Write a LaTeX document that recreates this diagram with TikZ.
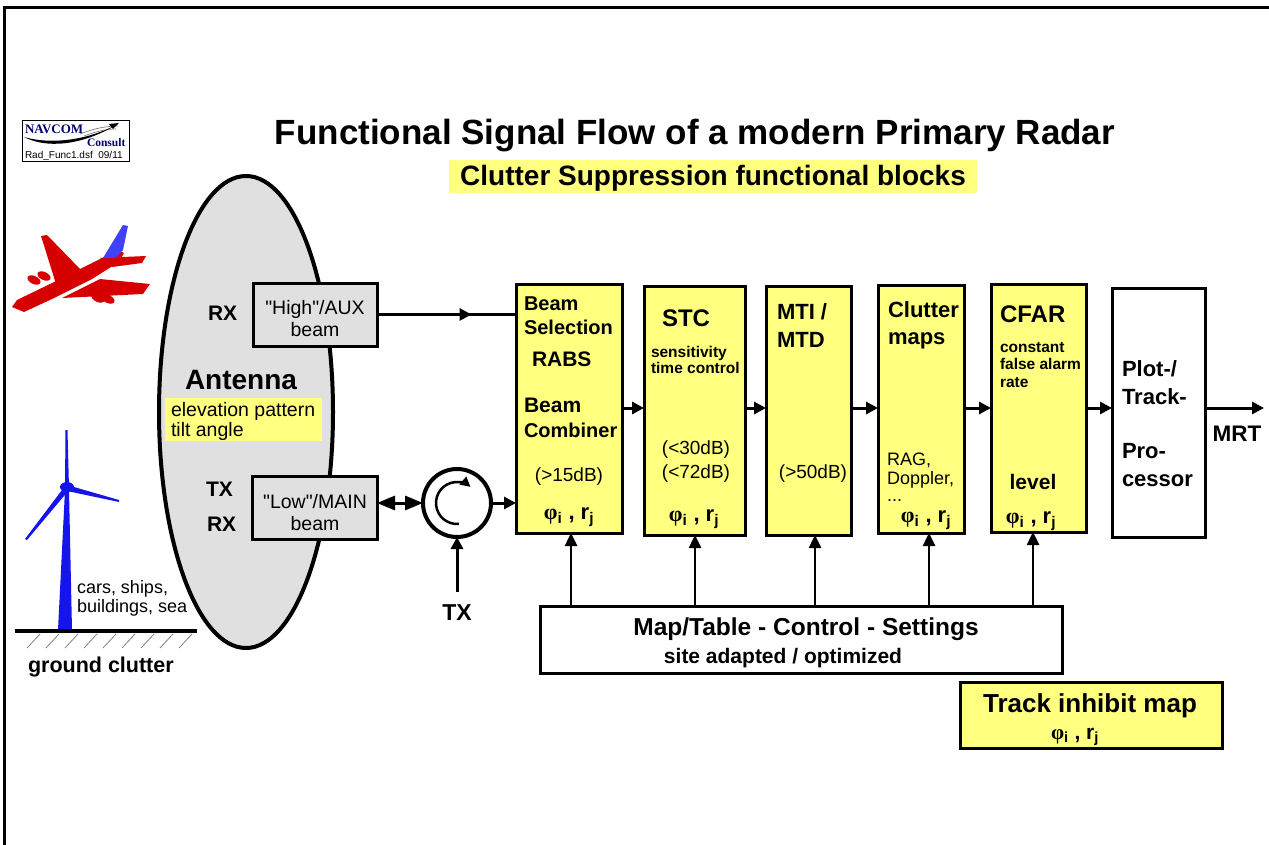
\documentclass[tikz,border=0pt]{standalone}
\usepackage{fontspec}
\setmainfont{Liberation Sans}
\newfontfamily\phifont{Liberation Serif}
\newfontfamily\rawsans{Liberation Sans}[Ligatures=TeXOff]
\usetikzlibrary{arrows.meta,calc,shapes.geometric}
\definecolor{blockyellow}{RGB}{255,255,128}
\definecolor{antgrey}{RGB}{224,224,224}
\definecolor{planered}{RGB}{214,0,0}
\definecolor{tailblue}{RGB}{64,64,255}
\definecolor{turbineblue}{RGB}{20,20,235}
\definecolor{navcomblue}{RGB}{0,0,110}
\newcommand{\fsz}[1]{\fontsize{#1}{#1}\selectfont}
\newcommand{\phirj}{{\phifont φ}\textsubscript{i} , r\textsubscript{j}}
\begin{document}
\begin{tikzpicture}[x=1pt,y=-1pt,
  every node/.style={inner sep=0pt, outer sep=0pt},
  blk/.style={draw, line width=3pt, anchor=north west},
  ybl/.style={blk, fill=blockyellow},
  gbl/.style={blk, fill=antgrey},
  wbl/.style={blk, fill=white},
  arr/.style={line width=3pt, -{Triangle[length=12pt,width=12pt]}},
  uparr/.style={line width=2.5pt, -{Triangle[length=13pt,width=12pt]}},
  lt/.style={anchor=base west},
  ct/.style={anchor=base}]
\useasboundingbox (0,0) rectangle (1269,845);

% page frame (left and top edges)
\draw[line width=2.5pt] (4.5,845) -- (4.5,7.5) -- (1269,7.5);

% logo
\node[draw, line width=1pt, anchor=north west, minimum width=107pt, minimum height=41pt] (logo) at (22,121) {};
\node[lt, font=\phifont\bfseries\fsz{13}, text=navcomblue] (logoa) at (25,134) {NAVCOM};
\node[lt, font=\phifont\bfseries\fsz{11.5}, text=navcomblue] (logob) at (87,147) {Consult};
\node[lt, font=\fsz{10}] (logoc) at (25,159) {Rad\_Func1.dsf\ \ 09/11};
\draw[gray, line width=0.7pt] (80,134) .. controls (95,128) and (108,126) .. (118,126);
\draw[gray, line width=0.7pt] (84,136) .. controls (97,131) and (108,129) .. (116,129);
\fill (24,137) .. controls (45,148) and (80,147) .. (118,124) .. controls (84,142) and (48,144) .. (24,137) -- cycle;
\fill (119,123) -- (109,124) -- (113,129) -- cycle;

% titles
\node[ct, font=\bfseries\fsz{35}] (title) at (695,145) {Functional Signal Flow of a modern Primary Radar};
\node[fill=blockyellow, anchor=north west, minimum width=528pt, minimum height=33pt] (subbg) at (449,160) {};
\node[ct, font=\bfseries\fsz{28}] (sub) at (713,186) {Clutter Suppression functional blocks};

% aircraft
\fill[planered] (12,307) -- (17,300) -- (50,284) -- (104,257) -- (117,250) -- (124,253) -- (119,262) -- (92,279) -- (52,299) -- (24,312) -- cycle;
\fill[planered] (56,284) -- (41,236) -- (47,235) -- (82,271) -- cycle;
\fill[planered] (62,298) -- (100,279) -- (150,284) -- (143,294) -- cycle;
\fill[planered] (100,258) -- (146,256) -- (142,263) -- (112,267) -- cycle;
\fill[planered, rotate around={-25:(34,280)}] (34,280) ellipse[x radius=7, y radius=4];
\fill[planered, rotate around={-25:(44,276)}] (44,276) ellipse[x radius=7, y radius=4];
\fill[planered, rotate around={-25:(98,298)}] (98,298) ellipse[x radius=7, y radius=4];
\fill[planered, rotate around={-25:(108,299)}] (108,299) ellipse[x radius=7, y radius=4];
\fill[tailblue] (103,258) -- (123,225) -- (128,226) -- (123,250) -- (116,258) -- cycle;

% wind turbine and ground
\fill[turbineblue] (58,630) -- (72,630) -- (69,490) -- (65,490) -- cycle;
\fill[turbineblue] (65,488) -- (65.5,430) -- (67.5,430) -- (69,488) -- cycle;
\fill[turbineblue] (65,486) -- (25,539) -- (27,540) -- (69,490) -- cycle;
\fill[turbineblue] (67,485) -- (119,500) -- (119,502) -- (67,491) -- cycle;
\fill[turbineblue] (67,487) ellipse[x radius=7, y radius=5];
\draw[line width=4pt] (15,631) -- (197,631);
\foreach \hx in {27,46,...,179}
  \draw[gray, line width=0.8pt] (\hx,648) -- (\hx+13,634);
\node[lt, font=\fsz{18}] (cars) at (77,593) {cars, ships,};
\node[lt, font=\fsz{18}] (bldg) at (77,612) {buildings, sea};
\node[lt, font=\bfseries\fsz{21.5}] (gnd) at (28,672) {ground clutter};

% antenna
\node[draw, ellipse, line width=4pt, fill=antgrey, minimum width=174pt, minimum height=472pt] (ant) at (246,412) {};
\node[ct, font=\bfseries\fsz{28}] (antlbl) at (241,389) {Antenna};
\node[fill=blockyellow, anchor=north west, minimum width=157pt, minimum height=43pt] (elevbg) at (165,398) {};
\node[lt, font=\fsz{19.5}] (elev1) at (171,416) {elevation pattern};
\node[lt, font=\fsz{19.5}] (elev2) at (171,436) {tilt angle};
\node[lt, font=\bfseries\fsz{21}] (rx1) at (208,320) {RX};
\node[lt, font=\bfseries\fsz{21}] (tx1) at (206,496) {TX};
\node[lt, font=\bfseries\fsz{21}] (rx2) at (207,531) {RX};

\node[gbl, minimum width=124pt, minimum height=63pt] (high) at (253,283) {};
\node[ct, font=\rawsans\fsz{19.5}] (hightxt) at (315,314) {"High"/AUX};
\node[ct, font=\fsz{19.5}] (highbeam) at (315,336) {beam};
\node[gbl, minimum width=125pt, minimum height=63pt] (low) at (252,476) {};
\node[ct, font=\rawsans\fsz{19.5}] (lowtxt) at (315,508) {"Low"/MAIN};
\node[ct, font=\fsz{19.5}] (lowbeam) at (315,530) {beam};

% circulator
\node[draw, circle, line width=4pt, fill=white, minimum size=68pt] (circ) at (457,503) {};
\draw[line width=2.5pt, -{Triangle[length=10pt,width=10pt]}] ($(circ.center)+(85:21)$) arc[start angle=85, end angle=310, radius=21];
\coordinate (txin) at (457,592);
\node[ct, font=\bfseries\fsz{23}] (txlbl) at (457,620) {TX};

% processing chain
\node[ybl, minimum width=106pt, minimum height=249pt] (beam) at (516,284) {};
\node[ybl, minimum width=101pt, minimum height=249pt] (stc) at (644,286) {};
\node[ybl, minimum width=85pt, minimum height=249pt] (mti) at (766,286) {};
\node[ybl, minimum width=86pt, minimum height=248pt] (clut) at (878,285) {};
\node[ybl, minimum width=95pt, minimum height=248pt] (cfar) at (991,284) {};
\node[wbl, minimum width=93pt, minimum height=249pt] (plot) at (1112,288) {};

\node[lt, font=\bfseries\fsz{20}] (b1) at (524,310) {Beam};
\node[lt, font=\bfseries\fsz{20}] (b2) at (524,334) {Selection};
\node[lt, font=\bfseries\fsz{21}] (b3) at (532,366) {RABS};
\node[lt, font=\bfseries\fsz{21}] (b4) at (524,412) {Beam};
\node[lt, font=\bfseries\fsz{20}] (b5) at (524,437) {Combiner};
\node[ct, font=\fsz{19}] (b6) at (569,481) {(>15dB)};
\node[ct, font=\bfseries\fsz{22}] (b7) at (569,519) {\phirj};

\node[lt, font=\bfseries\fsz{24}] (s1) at (662,326) {STC};
\node[lt, font=\bfseries\fsz{15.5}] (s2) at (651,357) {sensitivity};
\node[lt, font=\bfseries\fsz{15.5}] (s3) at (651,373) {time control};
\node[ct, font=\fsz{19}] (s4) at (696,454) {(<30dB)};
\node[ct, font=\fsz{19}] (s5) at (696,478) {(<72dB)};
\node[ct, font=\bfseries\fsz{22}] (s6) at (694,521) {\phirj};

\node[lt, font=\bfseries\fsz{22}] (m1) at (777,319) {MTI /};
\node[lt, font=\bfseries\fsz{22}] (m2) at (777,347) {MTD};
\node[ct, font=\fsz{19}] (m3) at (813,478) {(>50dB)};

\node[lt, font=\bfseries\fsz{22}] (c1) at (888,317) {Clutter};
\node[lt, font=\bfseries\fsz{22}] (c2) at (888,344) {maps};
\node[lt, font=\fsz{18}] (c3) at (887,465) {RAG,};
\node[lt, font=\fsz{18}] (c4) at (887,484) {Doppler,};
\node[lt, font=\fsz{18}] (c5) at (887,501) {...};
\node[ct, font=\bfseries\fsz{22}] (c6) at (926,522) {\phirj};

\node[lt, font=\bfseries\fsz{24}] (f1) at (1000,322) {CFAR};
\node[lt, font=\bfseries\fsz{15.5}] (f2) at (1000,352) {constant};
\node[lt, font=\bfseries\fsz{15.5}] (f3) at (1000,369) {false alarm};
\node[lt, font=\bfseries\fsz{15.5}] (f4) at (1000,387) {rate};
\node[ct, font=\bfseries\fsz{21}] (f5) at (1033,489) {level};
\node[ct, font=\bfseries\fsz{22}] (f6) at (1031,523) {\phirj};

\node[lt, font=\bfseries\fsz{22}] (p1) at (1122,376) {Plot-/};
\node[lt, font=\bfseries\fsz{22}] (p2) at (1122,404) {Track-};
\node[lt, font=\bfseries\fsz{22}] (p3) at (1122,458) {Pro-};
\node[lt, font=\bfseries\fsz{22}] (p4) at (1122,486) {cessor};

\node[ct, font=\bfseries\fsz{22.5}] (mrtlbl) at (1237,441) {MRT};

% control settings
\node[wbl, minimum width=522pt, minimum height=67pt] (map) at (540,606) {};
\node[ct, font=\bfseries\fsz{24.5}] (map1) at (806,635) {Map/Table - Control - Settings};
\node[ct, font=\bfseries\fsz{21}] (map2) at (783,663) {site adapted / optimized};
\node[ybl, minimum width=262pt, minimum height=66pt] (track) at (960,682) {};
\node[ct, font=\bfseries\fsz{26}] (track1) at (1090,712) {Track inhibit map};
\node[ct, font=\bfseries\fsz{21}] (track2) at (1075,739) {\phirj};

% signal connections
\coordinate (row) at (0,408);
\coordinate (mrt) at (1264,408);
\draw[line width=3pt] (high.east) -- (high.east -| beam.west);
\draw[arr] (high.east) -- ($(high.east)!0.68!(high.east -| beam.west)$);
\draw[line width=3pt, {Triangle[length=18pt,width=14pt]}-{Triangle[length=18pt,width=14pt]}] (low.east |- circ.west) -- (circ.west);
\draw[arr] (circ.east) -- (circ.east -| beam.west);
\draw[arr] (txin) -- (circ.south);
\draw[arr] (beam.east |- row) -- (stc.west |- row);
\draw[arr] (stc.east |- row) -- (mti.west |- row);
\draw[arr] (mti.east |- row) -- (clut.west |- row);
\draw[arr] (clut.east |- row) -- (cfar.west |- row);
\draw[arr] (cfar.east |- row) -- (plot.west |- row);
\draw[arr] (plot.east |- mrt) -- (mrt);

% settings feeds
\coordinate (k1) at (571,606);
\coordinate (k2) at (695,606);
\coordinate (k3) at (815,606);
\coordinate (k4) at (929,606);
\coordinate (k5) at (1033,606);
\draw[uparr] (k1) -- (k1 |- beam.south);
\draw[uparr] (k2) -- (k2 |- stc.south);
\draw[uparr] (k3) -- (k3 |- mti.south);
\draw[uparr] (k4) -- (k4 |- clut.south);
\draw[uparr] (k5) -- (k5 |- cfar.south);
\end{tikzpicture}
\end{document}
